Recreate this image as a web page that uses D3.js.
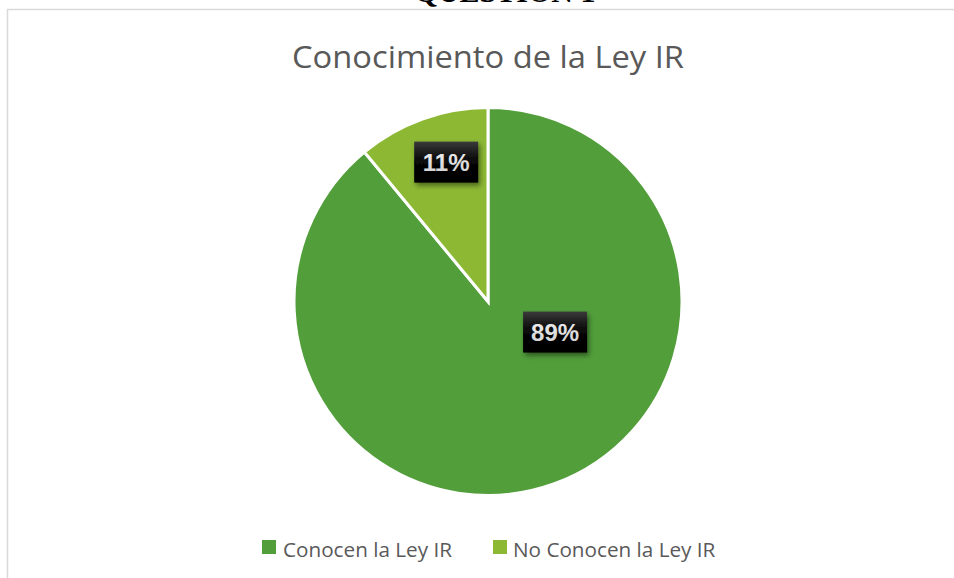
<!DOCTYPE html>
<html><head><meta charset="utf-8">
<script src="https://cdn.jsdelivr.net/npm/d3@7"></script>
<style>body{margin:0;background:#fff;}svg{display:block;}</style>
</head><body>
<svg id="c" width="954" height="578"></svg>
<script>
const categories = ["Conocen la Ley IR", "No Conocen la Ley IR"];
const values = [89, 11];
const labels = ["89%", "11%"];
const colors = ["#529e3b", "#8cb834"];
const title = "Conocimiento de la Ley IR";

const svg = d3.select("#c");
const defs = svg.append("defs");
const grad = defs.append("linearGradient").attr("id","lblg").attr("x1",0).attr("y1",0).attr("x2",0).attr("y2",1);
grad.append("stop").attr("offset","0%").attr("stop-color","#3a3a3a");
grad.append("stop").attr("offset","45%").attr("stop-color","#080808");
grad.append("stop").attr("offset","100%").attr("stop-color","#000");
const tg = defs.append("linearGradient").attr("id","txtg").attr("x1",0).attr("y1",0).attr("x2",0).attr("y2",1);
tg.append("stop").attr("offset","0%").attr("stop-color","#f2f2f2");
tg.append("stop").attr("offset","100%").attr("stop-color","#cfcfcf");
const f = defs.append("filter").attr("id","sh").attr("x","-30%").attr("y","-30%").attr("width","160%").attr("height","170%");
f.append("feDropShadow").attr("dx",2).attr("dy",3).attr("stdDeviation",2.5).attr("flood-color","#000").attr("flood-opacity",0.45);

// heading of the page, cut off above the frame as in the source
svg.append("text").attr("x",505).attr("y",1.5).attr("text-anchor","middle")
  .attr("font-family","Liberation Serif, serif").attr("font-weight","bold").attr("font-size",30)
  .attr("fill","#000").text("QUESTION 1");

// chart frame
svg.append("rect").attr("x",7.5).attr("y",9.5).attr("width",1000).attr("height",600)
  .attr("fill","#fff").attr("stroke","#d9d9d9").attr("stroke-width",1.5);

svg.append("text").attr("x",488).attr("y",68).attr("text-anchor","middle")
  .attr("font-family","Open Sans, sans-serif").attr("font-size",31).attr("fill","#595959")
  .attr("textLength",392).attr("lengthAdjust","spacingAndGlyphs").text(title);

const cx = 488, cy = 301.5, r = 194;
const pie = d3.pie().sort(null).value(d => d)(values);
const arc = d3.arc().innerRadius(0).outerRadius(r);
const g = svg.append("g").attr("transform",`translate(${cx},${cy})`);
g.selectAll("path").data(pie).join("path").attr("d",arc)
  .attr("fill",(d,i)=>colors[i]).attr("stroke","#fff").attr("stroke-width",3).attr("stroke-linejoin","miter");

// "best fit" label placement: angle (deg from 12 o'clock) and radius fraction
const labelPlace = [{a:114.5, k:0.38}, {a:343.3, k:0.75}];
pie.forEach((d,i)=>{
  const a = labelPlace[i].a*Math.PI/180, rr = r*labelPlace[i].k;
  const x = Math.sin(a)*rr, y = -Math.cos(a)*rr;
  const w = 64, h = 41;
  const lg = g.append("g").attr("transform",`translate(${x},${y})`);
  lg.append("rect").attr("x",-w/2).attr("y",-h/2).attr("width",w).attr("height",h)
    .attr("fill","url(#lblg)").attr("filter","url(#sh)");
  lg.append("text").attr("text-anchor","middle").attr("y",8.5)
    .attr("font-family","Liberation Sans, Arial, sans-serif").attr("font-weight","bold")
    .attr("font-size",24).attr("fill","url(#txtg)").text(labels[i]);
});

// legend
const legX = [262, 493], textX = [283, 513];
categories.forEach((c,i)=>{
  svg.append("rect").attr("x",legX[i]).attr("y",540).attr("width",14).attr("height",14).attr("fill",colors[i]);
  svg.append("text").attr("x",textX[i]).attr("y",557).attr("font-family","Open Sans, sans-serif")
    .attr("font-size",20.7).attr("fill","#595959").text(c);
});
</script>
</body></html>
